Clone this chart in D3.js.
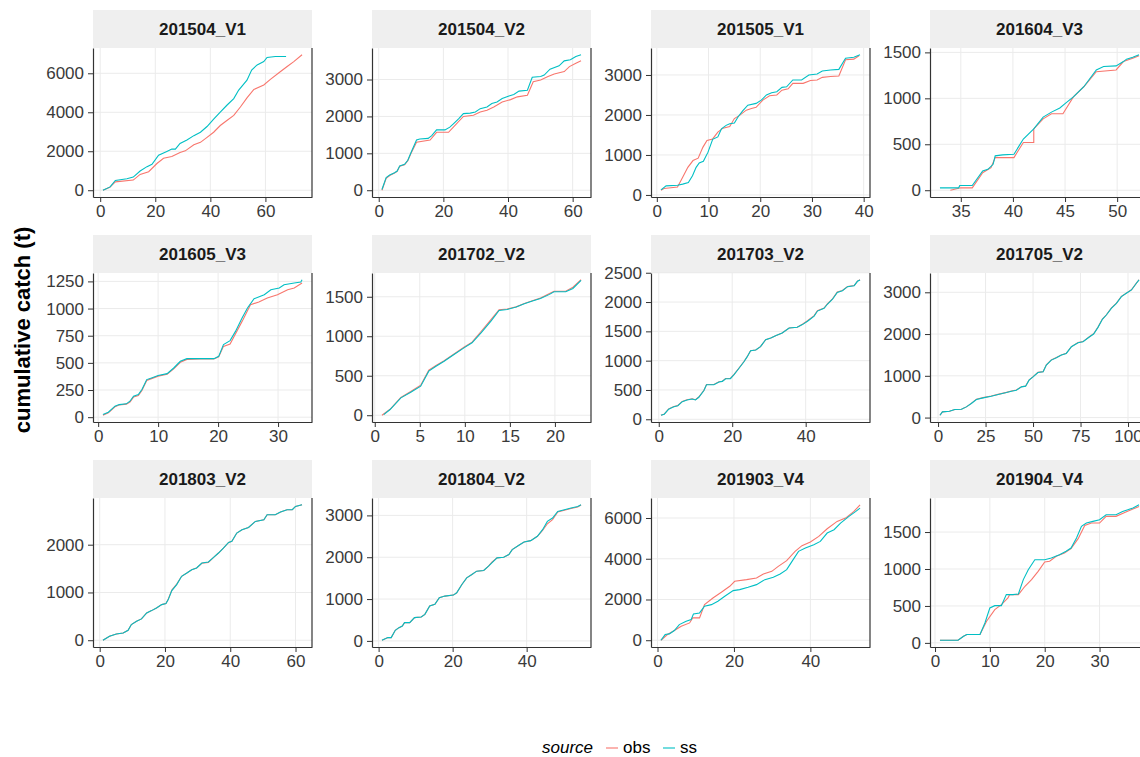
<!DOCTYPE html>
<html>
<head>
<meta charset="utf-8">
<script src="https://cdn.jsdelivr.net/npm/d3@7"></script>
<style>
  body { margin: 0; background: #fff; }
  text { font-family: "Liberation Sans", Arial, sans-serif; }
</style>
</head>
<body>
<div id="chart"></div>
<script>
// facet names, in reading order
var facetNames = ["201504_V1", "201504_V2", "201505_V1", "201604_V3",
                  "201605_V3", "201702_V2", "201703_V2", "201705_V2",
                  "201803_V2", "201804_V2", "201903_V4", "201904_V4"];
var sourceNames = ["obs", "ss"];

// cumulative catch (t) per day: [day, catch]
var obs_201504_V1 = [[1,0],[3.5,150],[5.5,430],[12,520],[14.5,810],[17.6,950],[20.6,1370],[23,1640],[26,1730],[29,1940],[30.9,2020],[34,2330],[36.4,2455],[38.8,2715],[41.2,2975],[43.6,3320],[46,3580],[48.5,3840],[50.9,4270],[53.3,4740],[55.8,5170],[59.4,5400],[61.8,5690],[65.5,6090],[67.9,6350],[70.3,6600],[73.3,6950]];
var ss_201504_V1 = [[1,0],[3.6,170],[5.5,500],[9.7,590],[12,675],[14.5,985],[17,1210],[18.8,1330],[21.2,1800],[24.2,1990],[26,2110],[27.3,2110],[29,2400],[31.5,2580],[34,2800],[36.4,2975],[38.8,3270],[41.2,3650],[43.6,4010],[46,4360],[48.5,4700],[50.3,5140],[53.3,5650],[55,6170],[57,6430],[59.4,6600],[60.6,6810],[63.6,6860],[67.5,6860]];

var obs_201504_V2 = [[1,0],[2.3,320],[3.4,400],[4.9,465],[5.7,510],[6.5,650],[8,690],[9,800],[10,1000],[11.7,1300],[15.9,1360],[17.9,1570],[21.6,1570],[23.1,1710],[26.2,2000],[29.3,2030],[31.4,2120],[33.5,2165],[35.6,2255],[38.2,2390],[40.8,2455],[42.9,2530],[46,2575],[47.8,2940],[50.1,2985],[52.2,3075],[54.3,3150],[57.4,3215],[59,3350],[61,3440],[62.6,3505]];
var ss_201504_V2 = [[1,20],[2.3,340],[3.4,410],[4.9,475],[5.7,520],[6.5,660],[8,700],[9,810],[10,1020],[11.7,1360],[12.7,1390],[15.3,1405],[16.4,1480],[17.9,1635],[20.5,1635],[22,1710],[23.1,1800],[24.7,1935],[26.2,2075],[28.3,2090],[29.9,2120],[31.4,2210],[33.5,2255],[35,2350],[36.6,2390],[38.2,2485],[40.3,2555],[41.8,2595],[43.4,2685],[46,2710],[47.5,3060],[50.1,3080],[51.2,3120],[53,3280],[55.8,3370],[57.4,3505],[59.3,3535],[61,3625],[62.6,3670]];

var obs_201505_V1 = [[0.8,118],[1.4,160],[4,200],[5,440],[6,690],[7,860],[8,920],[8.9,1190],[9.7,1360],[10.8,1400],[11.8,1570],[12.8,1670],[14.1,1710],[15,1910],[16,1990],[17.3,2120],[18.3,2160],[19.2,2190],[20.5,2370],[21.8,2480],[23.2,2500],[24.2,2620],[25.4,2655],[26.3,2790],[28.3,2790],[29.7,2860],[31,2875],[32,2940],[33.6,2960],[35.2,2975],[36.5,3380],[38.1,3395],[39.1,3480]];
var ss_201505_V1 = [[0.8,126],[1.8,227],[4,244],[5,270],[6.1,310],[6.9,480],[7.6,690],[8.2,800],[9,840],[9.9,1070],[10.8,1390],[11.8,1450],[12.5,1655],[13.4,1740],[14.1,1780],[15,1800],[15.7,1950],[16.6,2100],[17.6,2245],[19.2,2290],[20.2,2370],[21.2,2500],[22.2,2555],[23.2,2580],[24.2,2690],[25.1,2705],[26.3,2875],[28,2875],[29.4,3000],[31,3025],[32,3100],[33.6,3125],[35.2,3140],[36.5,3420],[38.1,3445],[39.3,3505]];

var obs_201604_V3 = [[34,0],[35,26],[36.1,26],[37.1,190],[37.9,245],[38.3,355],[40.1,355],[41,520],[42,520],[42,667],[42.9,777],[43.7,832],[44.8,832],[45.8,1016],[46.8,1126],[48,1290],[49.9,1309],[50.6,1400],[51.5,1437],[52.1,1463]];
var ss_201604_V3 = [[33,26],[34.8,26],[34.9,51],[36.1,51],[37.1,209],[37.6,227],[38.1,282],[38.3,374],[39,385],[40.1,392],[41,557],[42,667],[42.9,796],[43.7,850],[44.5,895],[45,942],[45.8,1016],[46.8,1126],[48,1309],[48.7,1346],[49.9,1353],[50.6,1400],[50.9,1426],[51.5,1448],[52.1,1474]];

var obs_201605_V3 = [[0.8,18],[1.7,40],[2.8,96],[3.5,112],[4.7,120],[5.3,140],[5.9,185],[6.7,200],[7.3,245],[8.1,338],[8.9,355],[10,378],[11.5,395],[12.6,445],[13.7,505],[14.8,532],[17,536],[19.3,536],[20.1,555],[20.9,652],[22,674],[24,882],[25.4,1036],[26.8,1060],[28.2,1097],[29.9,1127],[31.6,1173],[32.7,1189],[34,1235]];
var ss_201605_V3 = [[0.8,25],[1.7,46],[2.8,101],[3.5,116],[4.7,123],[5.3,147],[5.9,193],[6.7,208],[7.3,254],[8.1,346],[8.9,361],[10,383],[11.5,401],[12.6,453],[13.7,515],[14.8,539],[17,539],[19.3,539],[20.1,560],[20.9,668],[22,705],[22.9,790],[24,913],[24.9,1005],[26,1090],[27.7,1127],[28.8,1173],[30.2,1189],[31,1219],[32.7,1235],[33.8,1244],[34,1265]];

var obs_201702_V2 = [[0.8,0],[1.7,75],[2.9,225],[4,300],[5.1,380],[6,570],[6.8,630],[7.7,690],[8.8,775],[9.9,860],[10.8,925],[11.8,1060],[12.9,1210],[13.8,1335],[14.7,1345],[15.7,1372],[16.6,1415],[17.5,1450],[18.4,1485],[19.4,1540],[19.9,1570],[21.2,1570],[22,1620],[22.9,1715]];
var ss_201702_V2 = [[1,8],[1.7,72],[2.9,220],[4,291],[5.1,368],[6,558],[6.8,621],[7.7,684],[8.8,769],[9.9,853],[10.8,917],[11.8,1044],[12.9,1191],[13.8,1327],[14.7,1339],[15.7,1369],[16.6,1411],[17.5,1445],[18.4,1479],[19.4,1530],[19.9,1563],[21.2,1563],[22,1605],[22.9,1707]];

var obs_201703_V2 = [[0.6,69],[1.5,90],[2.7,178],[4.1,216],[5.2,235],[6.4,304],[7.7,332],[9.1,349],[10,333],[10.9,380],[12.3,495],[13,592],[15,592],[16.4,640],[17.3,650],[18.2,696],[19.5,696],[20.5,766],[21.8,870],[23.2,985],[24.1,1072],[25,1171],[26.4,1183],[27.7,1240],[29.1,1356],[30.5,1385],[31.8,1425],[33.6,1471],[35.5,1558],[37.7,1569],[39.1,1620],[40.5,1680],[42.3,1768],[43.2,1852],[45,1898],[45.9,1968],[47.3,2055],[48.6,2170],[50,2198],[51.4,2266],[53.2,2283],[54.1,2358],[54.8,2380]];
var ss_201703_V2 = [[0.6,69],[1.5,87],[2.7,173],[4.1,213],[5.2,231],[6.4,300],[7.7,329],[9.1,346],[10,329],[10.9,375],[12.3,490],[13,588],[15,588],[16.4,635],[17.3,646],[18.2,692],[19.5,692],[20.5,762],[21.8,866],[23.2,981],[24.1,1068],[25,1171],[26.4,1183],[27.7,1240],[29.1,1356],[30.5,1385],[31.8,1425],[33.6,1471],[35.5,1558],[37.7,1569],[39.1,1615],[40.5,1673],[42.3,1760],[43.2,1846],[45,1892],[45.9,1962],[47.3,2048],[48.6,2164],[50,2193],[51.4,2262],[53.2,2279],[54.1,2354],[54.8,2377]];

var obs_201705_V2 = [[1,56],[2.3,136],[6,152],[8.8,192],[12.3,200],[14.9,256],[17.5,340],[20.2,440],[23.7,478],[28,515],[31.6,555],[36,604],[38.6,636],[41.2,660],[43.9,740],[46.1,756],[47.9,900],[50,980],[52.6,1084],[55.3,1100],[57,1262],[59.6,1380],[62.3,1436],[64.9,1500],[67.5,1540],[70.2,1700],[73.7,1796],[76.3,1820],[79.8,1940],[81.9,2008],[84.2,2170],[86.5,2360],[88.6,2462],[91.2,2622],[93.9,2742],[96.5,2900],[99.1,2980],[101.8,3060],[104.4,3220],[105.8,3300]];
var ss_201705_V2 = [[1,56],[2.3,136],[6,152],[8.8,192],[12.3,200],[14.9,256],[17.5,336],[20.2,432],[23.7,472],[28,512],[31.6,552],[36,600],[38.6,632],[41.2,656],[43.9,736],[46.1,752],[47.9,896],[50,976],[52.6,1080],[55.3,1096],[57,1256],[59.6,1376],[62.3,1432],[64.9,1496],[67.5,1536],[70.2,1696],[73.7,1792],[76.3,1816],[79.8,1936],[81.9,2000],[84.2,2160],[86.5,2352],[88.6,2456],[91.2,2616],[93.9,2736],[96.5,2896],[99.1,2976],[101.8,3056],[104.4,3216],[105.8,3296]];

var obs_201803_V2 = [[1,0],[3,84],[5.1,132],[7.2,153],[8.7,209],[9.7,328],[11.3,397],[12.8,446],[14.4,571],[15.9,620],[17.4,676],[19,746],[20.3,767],[21,860],[22.1,1050],[23.6,1175],[25.1,1338],[26.7,1408],[28.2,1477],[29.7,1512],[31.3,1610],[33.3,1630],[34.9,1735],[36.4,1826],[37.9,1930],[39.5,2049],[40.5,2070],[42,2244],[43.6,2314],[45.6,2362],[47.7,2488],[50.3,2523],[51.3,2627],[53.8,2627],[55.4,2683],[57.4,2732],[59,2732],[60,2801],[62,2836]];
var ss_201803_V2 = [[1,0],[3,84],[5.1,132],[7.2,153],[8.7,209],[9.7,328],[11.3,397],[12.8,446],[14.4,571],[15.9,620],[17.4,676],[19,746],[20.3,767],[21,850],[22.1,1038],[23.6,1164],[25.1,1338],[26.7,1408],[28.2,1477],[29.7,1512],[31.3,1617],[33.3,1638],[34.9,1735],[36.4,1826],[37.9,1930],[39.5,2049],[40.5,2070],[42,2244],[43.6,2314],[45.6,2362],[47.7,2488],[50.3,2523],[51.3,2627],[53.8,2627],[55.4,2683],[57.4,2732],[59,2732],[60,2801],[62,2836]];

var obs_201804_V2 = [[0.9,16],[2.5,79],[3.4,79],[4.5,254],[5.5,317],[6.4,357],[7,437],[8.4,437],[9.7,556],[11.5,571],[12.5,635],[13.8,833],[15.2,873],[16.4,1032],[17.9,1071],[20.2,1095],[21.1,1151],[22.5,1349],[23.8,1508],[25.2,1587],[26.5,1667],[28.4,1683],[29.7,1786],[30.6,1880],[32,1984],[33.8,2000],[35.2,2063],[36.1,2183],[37.9,2286],[39.3,2365],[41.1,2397],[42.9,2500],[44.3,2640],[45.6,2800],[47,2900],[48.4,3080],[50.2,3125],[52,3165],[53.8,3200],[54.7,3250]];
var ss_201804_V2 = [[0.9,16],[2.5,79],[3.4,79],[4.5,254],[5.5,317],[6.4,357],[7,437],[8.4,437],[9.7,556],[11.5,571],[12.5,635],[13.8,833],[15.2,873],[16.4,1032],[17.9,1071],[20.2,1095],[21.1,1151],[22.5,1349],[23.8,1508],[25.2,1587],[26.5,1667],[28.4,1683],[29.7,1786],[30.6,1865],[32,1984],[33.8,2000],[35.2,2063],[36.1,2183],[37.9,2286],[39.3,2365],[41.1,2397],[42.9,2500],[44.3,2659],[45.6,2857],[47,2937],[48.4,3095],[50.2,3135],[52,3175],[53.8,3214],[54.7,3254]];

var obs_201903_V4 = [[0.9,0],[2.6,278],[4.4,474],[6.2,686],[8.4,850],[9.2,1095],[11,1095],[12.3,1748],[14.5,2075],[16.7,2353],[18.9,2647],[20.2,2892],[23.3,2974],[25.9,3056],[27.7,3252],[29.9,3382],[31.6,3627],[33.8,3905],[36,4363],[37.8,4641],[40,4820],[42.2,5098],[44.4,5474],[47,5833],[49.2,5997],[51.4,6323],[53,6650]];
var ss_201903_V4 = [[0.9,0],[2,278],[3.1,310],[4.4,474],[5.7,768],[7.5,931],[8.8,1013],[9.4,1291],[11,1340],[12.3,1667],[14.1,1748],[15.8,1912],[17.6,2157],[19.8,2435],[21.5,2484],[23.7,2598],[25.9,2729],[28.1,2974],[30.3,3088],[32.1,3252],[33.8,3464],[35.2,3873],[36.9,4363],[38.7,4526],[40.9,4690],[42.6,4853],[44.4,5261],[46.2,5425],[47.9,5752],[50.1,6078],[51.9,6323],[53,6487]];

var obs_201904_V4 = [[0.9,36],[4.2,36],[5.2,90],[5.8,113],[8.2,113],[9.4,293],[10.9,450],[12.1,518],[13.3,608],[13.6,653],[15.2,653],[16.4,766],[17.6,856],[18.8,968],[20,1095],[20.9,1104],[22.1,1171],[23.6,1216],[24.8,1275],[26.1,1410],[27.3,1590],[28.5,1622],[30,1622],[31.2,1712],[33,1712],[34.8,1770],[37.2,1847]];
var ss_201904_V4 = [[0.9,36],[4.2,36],[5.2,90],[5.8,113],[8.2,113],[9.1,270],[10,473],[10.9,504],[12.1,504],[13,653],[14.2,653],[15.2,662],[16.1,856],[17,991],[18.2,1126],[20,1126],[21.2,1149],[22.7,1194],[23.9,1239],[24.8,1284],[25.8,1419],[26.7,1577],[27.6,1622],[28.8,1644],[30,1667],[31.2,1734],[33,1734],[34.2,1779],[36.1,1824],[37.2,1869]];

// axis breaks per facet
var xBreaks = [[0,20,40,60],[0,20,40,60],[0,10,20,30,40],[35,40,45,50],
               [0,10,20,30],[0,5,10,15,20],[0,20,40],[0,25,50,75,100],
               [0,20,40,60],[0,20,40],[0,20,40],[0,10,20,30]];
var yBreaks = [[0,2000,4000,6000],[0,1000,2000,3000],[0,1000,2000,3000],[0,500,1000,1500],
               [0,250,500,750,1000,1250],[0,500,1000,1500],[0,500,1000,1500,2000,2500],[0,1000,2000,3000],
               [0,1000,2000],[0,1000,2000,3000],[0,2000,4000,6000],[0,500,1000,1500]];

var obsList = [obs_201504_V1, obs_201504_V2, obs_201505_V1, obs_201604_V3, obs_201605_V3, obs_201702_V2,
               obs_201703_V2, obs_201705_V2, obs_201803_V2, obs_201804_V2, obs_201903_V4, obs_201904_V4];
var ssList = [ss_201504_V1, ss_201504_V2, ss_201505_V1, ss_201604_V3, ss_201605_V3, ss_201702_V2,
              ss_201703_V2, ss_201705_V2, ss_201803_V2, ss_201804_V2, ss_201903_V4, ss_201904_V4];

var colors = { obs: "#F8766D", ss: "#00BFC4" };

var width = 1140, height = 757;
var svg = d3.select("#chart").append("svg")
    .attr("width", width)
    .attr("height", height);

// facet grid geometry
var left0 = 93, top0 = 10, colStep = 279, rowStep = 225;
var panelW = 219, panelH = 149, stripH = 38;
var fmt = d3.format("d");

facetNames.forEach(function (name, i) {
    var col = i % 4, row = Math.floor(i / 4);
    var g = svg.append("g")
        .attr("transform", "translate(" + (left0 + col * colStep) + "," + (top0 + row * rowStep) + ")");

    // strip
    g.append("rect")
        .attr("width", panelW)
        .attr("height", stripH)
        .attr("fill", "#EFEFEF");
    g.append("text")
        .attr("x", panelW / 2)
        .attr("y", stripH / 2 + 6)
        .attr("text-anchor", "middle")
        .style("font-size", "17px")
        .style("font-weight", "bold")
        .style("fill", "#1A1A1A")
        .text(name);

    var p = g.append("g").attr("transform", "translate(0," + stripH + ")");

    var series = { obs: obsList[i], ss: ssList[i] };
    var all = series.obs.concat(series.ss);
    var xe = d3.extent(all, function (d) { return d[0]; });
    var ye = d3.extent(all, function (d) { return d[1]; });
    var xp = (xe[1] - xe[0]) * 0.05, yp = (ye[1] - ye[0]) * 0.05;

    var x = d3.scaleLinear().domain([xe[0] - xp, xe[1] + xp]).range([0, panelW]);
    var y = d3.scaleLinear().domain([ye[0] - yp, ye[1] + yp]).range([panelH, 0]);

    // grid
    p.selectAll(".gx").data(xBreaks[i]).enter().append("line")
        .attr("x1", function (d) { return x(d); }).attr("x2", function (d) { return x(d); })
        .attr("y1", 0).attr("y2", panelH)
        .attr("stroke", "#EBEBEB").attr("stroke-width", 1);
    p.selectAll(".gy").data(yBreaks[i]).enter().append("line")
        .attr("y1", function (d) { return y(d); }).attr("y2", function (d) { return y(d); })
        .attr("x1", 0).attr("x2", panelW)
        .attr("stroke", "#EBEBEB").attr("stroke-width", 1);

    var clipId = "clip" + i;
    p.append("clipPath").attr("id", clipId)
        .append("rect").attr("width", panelW).attr("height", panelH);

    var line = d3.line()
        .x(function (d) { return x(d[0]); })
        .y(function (d) { return y(d[1]); });

    sourceNames.forEach(function (s) {
        p.append("path")
            .datum(series[s])
            .attr("clip-path", "url(#" + clipId + ")")
            .attr("fill", "none")
            .attr("stroke", colors[s])
            .attr("stroke-width", 1.1)
            .attr("d", line);
    });

    // axes
    var ya = p.append("g")
        .call(d3.axisLeft(y).tickValues(yBreaks[i]).tickFormat(fmt)
            .tickSize(5).tickSizeOuter(0).tickPadding(4));
    var xa = p.append("g")
        .attr("transform", "translate(0," + panelH + ")")
        .call(d3.axisBottom(x).tickValues(xBreaks[i]).tickFormat(fmt)
            .tickSize(5).tickSizeOuter(0).tickPadding(3));
    [ya, xa].forEach(function (a) {
        a.select(".domain").attr("stroke", "#333").attr("stroke-width", 1.2);
        a.selectAll(".tick line").attr("stroke", "#333");
        a.selectAll(".tick text")
            .style("font-size", "17px")
            .style("font-family", "'Liberation Sans', Arial, sans-serif")
            .attr("fill", "#3A3A3A");
    });
    p.append("line")
        .attr("x1", panelW).attr("x2", panelW)
        .attr("y1", 0).attr("y2", panelH)
        .attr("stroke", "#333").attr("stroke-width", 1.2);
});

// y axis title
svg.append("text")
    .attr("transform", "translate(30,330) rotate(-90)")
    .attr("text-anchor", "middle")
    .style("font-size", "22px")
    .style("font-weight", "bold")
    .style("fill", "#000")
    .text("cumulative catch (t)");

// legend
var legend = svg.append("g").attr("transform", "translate(542,753)");
legend.append("text")
    .attr("x", 0).attr("y", 0)
    .style("font-size", "17px")
    .style("font-style", "italic")
    .style("fill", "#000")
    .text("source");
var keyX = [64, 121];
sourceNames.forEach(function (s, k) {
    legend.append("line")
        .attr("x1", keyX[k]).attr("x2", keyX[k] + 12)
        .attr("y1", -5).attr("y2", -5)
        .attr("stroke", colors[s]).attr("stroke-width", 1.1);
    legend.append("text")
        .attr("x", keyX[k] + 17).attr("y", 0)
        .style("font-size", "17px")
        .style("fill", "#000")
        .text(s);
});
</script>
</body>
</html>
